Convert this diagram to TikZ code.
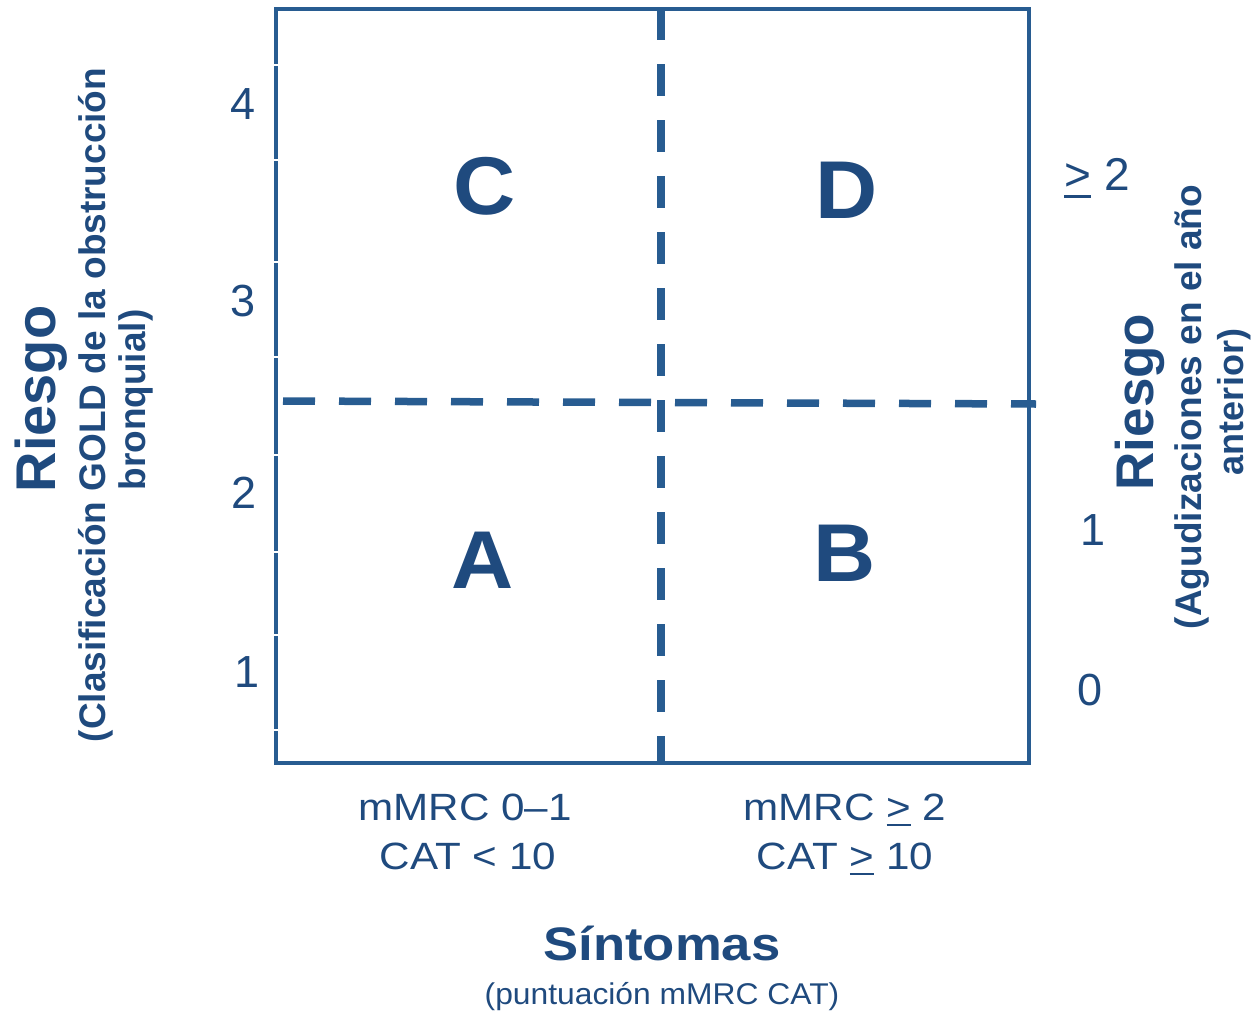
\documentclass[tikz,border=0pt]{standalone}
\usepackage{fontspec}
\setmainfont{Liberation Sans}
\usepackage{graphicx}
\definecolor{txt}{RGB}{31,74,126}
\definecolor{ln}{RGB}{40,92,145}
\newcommand\ugt{\leavevmode\vtop{\hbox{>}\kern0.1em\hrule height 0.07em}}
\tikzset{
  lbl/.style={inner sep=0pt, text=txt, anchor=base},
  quad/.style={inner sep=0pt, text=txt, font=\bfseries\fontsize{82}{82}\selectfont},
  num/.style={inner sep=0pt, text=txt, font=\fontsize{45}{45}\selectfont},
  vlbl/.style={inner sep=0pt, text=txt, anchor=base, rotate=90},
  frame/.style={draw=ln, line width=4.7pt, line join=miter},
  divider/.style={draw=ln, line width=7.5pt, dash pattern=on 32pt off 24pt},
  gap/.style={draw=white, line width=1.6pt}
}
\begin{document}
\begin{tikzpicture}[x=1pt,y=-1pt]
\useasboundingbox (0,0) rectangle (1251,1012);
% frame
\coordinate (tl) at (276,9);
\coordinate (br) at (1029,763);
\draw[frame] (tl) rectangle (br);
% left border tick gaps
\foreach \yy in {65,160,262,357,455,552,635,730}
  \draw[gap] (273,\yy) -- (279,\yy);
% dividers
\coordinate (vt) at (661,8);
\coordinate (vb) at (661,765);
\coordinate (hl) at (283,401);
\coordinate (hr) at (1036,404);
\draw[divider] (vt) -- (vb);
\draw[divider] (hl) -- (hr);
% quadrant letters
\node[quad] (C) at (485,186) {\scalebox{1.05}[1]{C}};
\node[quad] (D) at (847,190) {\scalebox{1.05}[1]{D}};
\node[quad] (A) at (483,560) {\scalebox{1.05}[1]{A}};
\node[quad] (B) at (845,553) {\scalebox{1.05}[1]{B}};
% left numbers
\node[num] (n4) at (243,104) {4};
\node[num] (n3) at (243,301) {3};
\node[num] (n2) at (244,493) {2};
\node[num] (n1) at (247,672) {1};
% right numbers
\node[lbl, font=\fontsize{46}{46}\selectfont] (r2) at (1097,190) {\ugt\ 2};
\node[num] (r1) at (1093,530) {1};
\node[num] (r0) at (1090,690) {0};
% bottom labels
\node[lbl, font=\fontsize{38}{38}\selectfont] (m1) at (465,820) {\scalebox{1.11}[1]{mMRC 0–1}};
\node[lbl, font=\fontsize{38}{38}\selectfont] (c1) at (468,869) {\scalebox{1.11}[1]{CAT < 10}};
\node[lbl, font=\fontsize{38}{38}\selectfont] (m2) at (845,820) {\scalebox{1.11}[1]{mMRC \ugt\ 2}};
\node[lbl, font=\fontsize{38}{38}\selectfont] (c2) at (845,869) {\scalebox{1.11}[1]{CAT \ugt\ 10}};
\node[lbl, font=\bfseries\fontsize{47}{47}\selectfont] (sint) at (662,960) {\scalebox{1.12}[1]{Síntomas}};
\node[lbl, font=\fontsize{30}{30}\selectfont] (punt) at (662,1004) {\scalebox{1.06}[1]{(puntuación mMRC CAT)}};
% left axis title
\node[vlbl, font=\bfseries\fontsize{56}{56}\selectfont] (lr) at (55,399) {Riesgo};
\node[vlbl, font=\bfseries\fontsize{37}{37}\selectfont] (lc) at (105,405) {(Clasificación GOLD de la obstrucción};
\node[vlbl, font=\bfseries\fontsize{37}{37}\selectfont] (lb) at (145,400) {bronquial)};
% right axis title
\node[vlbl, font=\bfseries\fontsize{53}{53}\selectfont] (rr) at (1153,402) {Riesgo};
\node[vlbl, font=\bfseries\fontsize{37}{37}\selectfont] (ra) at (1201,407) {(Agudizaciones en el año};
\node[vlbl, font=\bfseries\fontsize{36}{36}\selectfont] (rb) at (1243,402) {anterior)};
\end{tikzpicture}
\end{document}
